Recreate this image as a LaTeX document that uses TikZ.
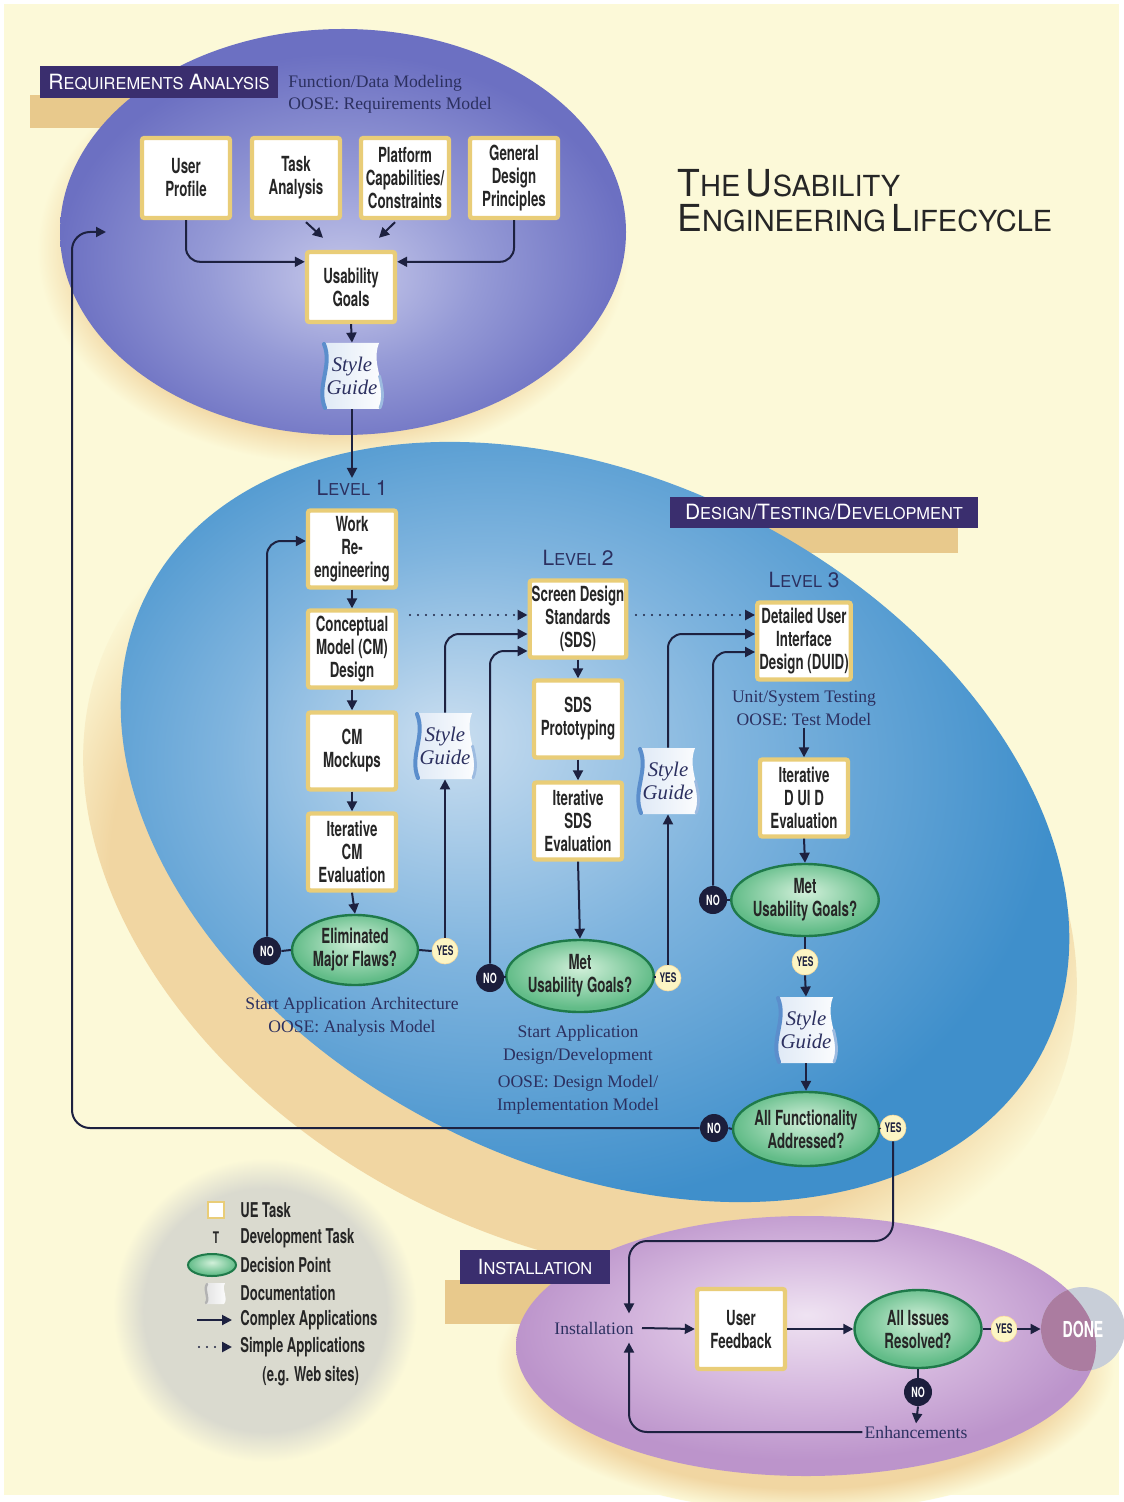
\documentclass[tikz,border=0pt]{standalone}
\usepackage{fontspec}
\setmainfont{Liberation Serif}
\newfontfamily\condfont[FakeStretch=0.64]{TeX Gyre Heros}
\newfontfamily\capfont{TeX Gyre Heros}
\usetikzlibrary{arrows.meta,shapes.geometric,calc}

% palette
\definecolor{paper}{HTML}{FCF9D8}
\definecolor{glowtan}{HTML}{F1D6A2}
\definecolor{raOut}{HTML}{6C70C2}
\definecolor{raMid}{HTML}{959AD6}
\definecolor{raIn}{HTML}{C6C8EA}
\definecolor{dtOut}{HTML}{3F8FCB}
\definecolor{dtMid}{HTML}{7FB4DE}
\definecolor{dtIn}{HTML}{CADEF0}
\definecolor{inOut}{HTML}{BC94CB}
\definecolor{inMid}{HTML}{D6B9DF}
\definecolor{inIn}{HTML}{EFE3F2}
\definecolor{legIn}{HTML}{DADACF}
\definecolor{decIn}{HTML}{D2F0DA}
\definecolor{decOut}{HTML}{62BC88}
\definecolor{decEdge}{HTML}{1F7A4A}
\definecolor{ink}{HTML}{1D2140}
\definecolor{labelpurple}{HTML}{3A2E6E}
\definecolor{labeltan}{HTML}{E8C98C}
\definecolor{frame}{HTML}{E9CD78}
\definecolor{nofill}{HTML}{1C1E3C}
\definecolor{yesfill}{HTML}{FCF5C4}
\definecolor{docblue}{HTML}{5B8ECC}
\definecolor{docpale}{HTML}{DCE7F5}
\definecolor{navytext}{HTML}{2C3060}
\definecolor{donegray}{HTML}{C8CED8}
\definecolor{donemauve}{HTML}{AB7CA0}

% shadings (the 25bp circle is the edge of the shaded path)
\pgfdeclareradialshading{rashade}{\pgfpoint{0bp}{-6bp}}{color(0bp)=(raIn); color(12bp)=(raMid); color(25bp)=(raOut); color(50bp)=(raOut)}
\pgfdeclareradialshading{dtshade}{\pgfpoint{-7bp}{5bp}}{color(0bp)=(dtIn); color(12bp)=(dtMid); color(25bp)=(dtOut); color(50bp)=(dtOut)}
\pgfdeclareradialshading{inshade}{\pgfpoint{0bp}{6bp}}{color(0bp)=(inIn); color(13bp)=(inMid); color(25bp)=(inOut); color(50bp)=(inOut)}
\pgfdeclareradialshading{glow}{\pgfpoint{0bp}{0bp}}{color(0bp)=(glowtan); color(21bp)=(glowtan); color(25bp)=(paper); color(50bp)=(paper)}
\pgfdeclareradialshading{legshade}{\pgfpoint{0bp}{0bp}}{color(0bp)=(legIn); color(20bp)=(legIn); color(25bp)=(paper); color(50bp)=(paper)}
\pgfdeclareradialshading{decshade}{\pgfpoint{0bp}{6bp}}{color(0bp)=(decIn); color(25bp)=(decOut); color(50bp)=(decOut)}

% small-caps headings built from two sizes
\newcommand\labBig[1]{{\fontsize{10.5}{12}\selectfont #1}}
\newcommand\labSm[1]{{\fontsize{8.2}{12}\selectfont #1}}
\newcommand\ttlBig[1]{{\fontsize{18.6}{20}\selectfont #1}}
\newcommand\ttlSm[1]{{\fontsize{14.5}{20}\selectfont #1}}

% wavy documentation sheet with its label
\newcommand\styleguide[3]{%
  \shade[left color=docpale, right color=white]
    (#2-28,#3-33) -- (#2+27,#3-33) .. controls (#2+18,#3-10) and (#2+37,#3+10) .. (#2+28,#3+33)
    -- (#2-27,#3+33) .. controls (#2-36,#3+10) and (#2-19,#3-10) .. cycle;
  \draw[docblue, line width=2pt, line cap=round]
    (#2-28,#3-32) .. controls (#2-19,#3-10) and (#2-36,#3+10) .. (#2-27,#3+32);
  \draw[docblue!60, line width=1.4pt, line cap=round]
    (#2+27.5,#3) .. controls (#2+30,#3+10.75) and (#2+32.5,#3+21.5) .. (#2+28,#3+32);
  \node[doc] (#1) at (#2,#3) {Style\\Guide};
}

\begin{document}
\begin{tikzpicture}[x=0.5pt,y=-0.5pt,
  ue/.style={rectangle, fill=white, draw=frame, line width=2.2pt, rounded corners=1.2pt,
    minimum width=44pt, minimum height=38.5pt, inner sep=1pt, align=center,
    font=\condfont\bfseries\fontsize{10.4}{11.5}\selectfont, text=black!85},
  dec/.style={ellipse, shade, shading=decshade, draw=decEdge, line width=1.2pt,
    minimum width=63pt, minimum height=35pt, inner sep=0pt, align=center,
    font=\condfont\bfseries\fontsize{10.4}{11.5}\selectfont, text=black!85},
  no/.style={circle, fill=nofill, minimum size=14pt, inner sep=0pt, text=white,
    font=\condfont\bfseries\fontsize{7}{7}\selectfont},
  yes/.style={circle, fill=yesfill, draw=yesfill!80!orange, line width=0.3pt, minimum size=13pt, inner sep=0pt, text=ink,
    font=\condfont\bfseries\fontsize{6.6}{7}\selectfont},
  doc/.style={minimum width=27pt, minimum height=33pt, inner sep=0pt, align=center,
    font=\itshape\fontsize{10.4}{11.5}\selectfont, text=navytext},
  note/.style={align=center, font=\fontsize{8.8}{11.3}\selectfont, text=navytext, inner sep=1pt},
  lvl/.style={font=\capfont, text=navytext, inner sep=1pt},
  lab/.style={fill=labelpurple, text=white, inner sep=0pt, font=\capfont},
  legtxt/.style={anchor=west, font=\condfont\bfseries\fontsize{10.2}{12}\selectfont, text=black!85, inner sep=0pt},
  line/.style={draw=ink, line width=1pt},
  arr/.style={draw=ink, line width=1pt, -{Triangle[length=5pt,width=5pt]}},
  dotarr/.style={draw=ink, line width=1.2pt, line cap=round, dash pattern=on 0pt off 4pt,
    -{Triangle[length=5pt,width=5pt]}},
]
\useasboundingbox (0,0) rectangle (1123,1502);

% page
\fill[white] (0,0) rectangle (1123,1502);
\fill[paper] (4,4) rectangle (1119,1495);

% soft tan glows beneath the phase ellipses
\shade[shading=glow] (333,250) ellipse [x radius=296, y radius=214];
\shade[shading=glow, rotate around={-27:(580,872)}] (580,872) ellipse [x radius=525, y radius=368];
\shade[shading=glow] (805,1366) ellipse [x radius=310, y radius=146];

% tan accent bars behind the phase labels
\fill[labeltan] (30,95) rectangle (200,128);
\fill[labeltan] (700,526) rectangle (958,553);
\fill[labeltan] (445,1280) rectangle (560,1324);

% phase ellipses
\shade[shading=rashade] (343,232) ellipse [x radius=283, y radius=203];
\shade[shading=dtshade, rotate around={-27:(595,822)}] (595,822) ellipse [x radius=503, y radius=341];
\shade[shading=inshade] (806,1346) ellipse [x radius=290, y radius=130];
\shade[shading=legshade] (265,1310) circle [radius=152];

% end marker
\fill[donegray] (1083,1329) circle [radius=42];
\begin{scope}
  \clip (806,1346) ellipse [x radius=290, y radius=130];
  \fill[donemauve] (1083,1329) circle [radius=42];
\end{scope}
\node[circle, minimum size=42pt, inner sep=0pt, text=white,
  font=\condfont\bfseries\fontsize{11}{12}\selectfont] (done) at (1083,1329) {DONE};

% phase labels
\node[lab, minimum width=119pt, minimum height=16pt] (labRA) at (159,82)
  {\labBig{R}\labSm{EQUIREMENTS} \labBig{A}\labSm{NALYSIS}};
\node[lab, minimum width=154pt, minimum height=15.5pt] (labDT) at (824,512)
  {\labBig{D}\labSm{ESIGN}\labBig{/T}\labSm{ESTING}\labBig{/D}\labSm{EVELOPMENT}};
\node[lab, minimum width=75pt, minimum height=17pt] (labIN) at (535,1267)
  {\labBig{I}\labSm{NSTALLATION}};

% title
\node[anchor=base west, font=\capfont, text=black!85, inner sep=0pt] (title1) at (677,197)
  {\ttlBig{T}\ttlSm{HE} \ttlBig{U}\ttlSm{SABILITY}};
\node[anchor=base west, font=\capfont, text=black!85, inner sep=0pt] (title2) at (677,232)
  {\ttlBig{E}\ttlSm{NGINEERING} \ttlBig{L}\ttlSm{IFECYCLE}};

% requirements analysis
\node[anchor=base west, note, inner sep=0pt] (raNote1) at (288,88) {Function/Data Modeling};
\node[anchor=base west, note, inner sep=0pt] (raNote2) at (288,110) {OOSE: Requirements Model};
\node[ue, minimum height=40pt] (up) at (186,178) {User\\Profile};
\node[ue, minimum height=40pt] (ta) at (296,178) {Task\\Analysis};
\node[ue, minimum height=40pt] (pc) at (405,178) {Platform\\Capabilities/\\Constraints};
\node[ue, minimum height=40pt] (gd) at (514,178) {General\\Design\\Principles};
\node[ue, minimum height=35pt] (ug) at (351,287) {Usability\\Goals};
\styleguide{sg0}{352}{376}

% level 1
\node[lvl] (lvl1) at (352,488) {\labBig{L}\labSm{EVEL} \labBig{1}};
\node[ue] (wr) at (352,549) {Work\\Re-\\engineering};
\node[ue] (cm) at (352,649) {Conceptual\\Model (CM)\\Design};
\node[ue] (mock) at (352,751) {CM\\Mockups};
\node[ue] (icm) at (352,852) {Iterative\\CM\\Evaluation};
\node[dec] (d1) at (355,950) {Eliminated\\Major Flaws?};
\node[no] (no1) at (267,951) {NO};
\node[yes] (yes1) at (445,951) {YES};
\node[note] (n1) at (352,1017) {Start Application Architecture\\OOSE: Analysis Model};
\styleguide{sg1}{445}{746}

% level 2
\node[lvl] (lvl2) at (578,558) {\labBig{L}\labSm{EVEL} \labBig{2}};
\node[ue] (sds) at (578,619) {Screen Design\\Standards\\(SDS)};
\node[ue] (sdsp) at (578,719) {SDS\\Prototyping};
\node[ue] (isds) at (578,821) {Iterative\\SDS\\Evaluation};
\node[dec, minimum width=64pt, minimum height=36pt] (d2) at (580,976) {Met\\Usability Goals?};
\node[no] (no2) at (490,978) {NO};
\node[yes] (yes2) at (668,978) {YES};
\node[note] (n2a) at (578,1045) {Start Application\\Design/Development};
\node[note] (n2b) at (578,1095) {OOSE: Design Model/\\Implementation Model};
\styleguide{sg2}{668}{781}

% level 3
\node[lvl] (lvl3) at (804,580) {\labBig{L}\labSm{EVEL} \labBig{3}};
\node[ue, minimum width=46pt] (duid) at (804,641) {Detailed User\\Interface\\Design (DUID)};
\node[note] (ust) at (804,708) {Unit/System Testing\\OOSE: Test Model};
\node[ue] (iduid) at (804,798) {Iterative\\D UI D\\Evaluation};
\node[dec, minimum width=64pt, minimum height=36pt] (d3) at (805,900) {Met\\Usability Goals?};
\node[no] (no3) at (713,900) {NO};
\node[yes] (yes3) at (805,962) {YES};
\styleguide{sg3}{806}{1030}
\node[dec, minimum width=65pt, minimum height=37pt] (d4) at (806,1129) {All Functionality\\Addressed?};
\node[no] (no4) at (714,1128) {NO};
\node[yes] (yes4) at (893,1128) {YES};

% installation
\node[note, inner sep=4pt] (inst) at (594,1328) {Installation};
\node[ue, minimum height=40pt] (uf) at (741,1329) {User\\Feedback};
\node[dec, minimum width=63.5pt, minimum height=39pt] (d5) at (918,1329) {All Issues\\Resolved?};
\node[yes] (yes5) at (1004,1329) {YES};
\node[no] (no5) at (918,1392) {NO};
\node[note] (enh) at (916,1432) {Enhancements};

% connectors: requirements analysis
\draw[arr, rounded corners=7pt] (up.south) |- ([yshift=-6pt]ug.north west);
\draw[arr, rounded corners=7pt] (gd.south) |- ([yshift=-6pt]ug.north east);
\draw[arr] ([xshift=5pt,yshift=-1pt]ta.south) -- ([xshift=-14pt,yshift=6pt]ug.north);
\draw[arr] ([xshift=-5pt,yshift=-1pt]pc.south) -- ([xshift=14pt,yshift=6pt]ug.north);
\draw[arr] (ug.south) -- (sg0.north);
\draw[arr] (sg0.south) -- (lvl1.north);

% connectors: level 1
\draw[arr] (wr.south) -- (cm.north);
\draw[arr] (cm.south) -- (mock.north);
\draw[arr] (mock.south) -- (icm.north);
\draw[arr] (icm.south) -- (d1.north);
\draw[line] (no1.east) -- (d1.west);
\draw[line] (d1.east) -- (yes1.west);
\draw[arr, rounded corners=7pt] (no1.north) |- ([yshift=4pt]wr.west);
\draw[arr] (yes1.north) -- (sg1.south);
\draw[arr, rounded corners=7pt] (sg1.north) |- ([yshift=-7.5pt]sds.west);
\coordinate (dot1) at (410,615);
\draw[dotarr] (dot1) -- (dot1 -| sds.west);

% connectors: level 2
\draw[arr] (sds.south) -- (sdsp.north);
\draw[arr] (sdsp.south) -- (isds.north);
\draw[arr] (isds.south) -- (d2.north);
\draw[line] (no2.east) -- (d2.west);
\draw[line] (d2.east) -- (yes2.west);
\draw[arr, rounded corners=7pt] (no2.north) |- ([yshift=-16pt]sds.west);
\draw[arr] (yes2.north) -- (sg2.south);
\draw[arr, rounded corners=7pt] (sg2.north) |- ([yshift=3.5pt]duid.west);
\coordinate (dot2) at (636,615);
\draw[dotarr] (dot2) -- (dot2 -| duid.west);

% connectors: level 3
\draw[arr] (ust.south) -- (iduid.north);
\draw[arr] (iduid.south) -- (d3.north);
\draw[line] (no3.east) -- (d3.west);
\draw[line] (d3.south) -- (yes3.north);
\draw[arr, rounded corners=7pt] (no3.north) |- ([yshift=-5.5pt]duid.west);
\draw[arr] (yes3.south) -- (sg3.north);
\draw[arr] (sg3.south) -- (d4.north);
\draw[line] (no4.east) -- (d4.west);
\draw[line] (d4.east) -- (yes4.west);

% back to requirements analysis
\coordinate (railL) at (72,0);
\coordinate (raEntry) at (106,232);
\draw[arr, rounded corners=9pt] (no4.west) -- (no4.west -| railL) -- (railL |- raEntry) -- (raEntry);

% on to installation
\coordinate (railY) at (0,1241);
\coordinate (instX) at (629,0);
\draw[arr, rounded corners=9pt] (yes4.south) -- (yes4.south |- railY) -- (instX |- railY) -- (instX |- inst.north);

% connectors: installation
\draw[arr] (inst.east) -- (uf.west);
\draw[arr] (uf.east) -- (d5.west);
\draw[line] (d5.east) -- (yes5.west);
\draw[arr] (yes5.east) -- (done.west);
\draw[line] (d5.south) -- (no5.north);
\draw[arr] (no5.south) -- (enh.north);
\draw[arr, rounded corners=9pt] (enh.west) -| (instX |- inst.south);

% legend
\node[rectangle, fill=white, draw=frame, line width=1.4pt, minimum size=8pt, inner sep=0pt] (lgUE) at (216,1210) {};
\node[legtxt] (lgUEt) at (240,1210) {UE Task};
\node[font=\condfont\bfseries\fontsize{8}{9}\selectfont, text=black!85, inner sep=0pt] (lgDT) at (216,1238) {T};
\node[legtxt] (lgDTt) at (240,1238) {Development Task};
\node[dec, minimum width=24pt, minimum height=11pt, line width=1pt] (lgDP) at (212,1265) {};
\node[legtxt] (lgDPt) at (240,1265) {Decision Point};
\shade[left color=black!12, right color=white]
  (207,1283) -- (225,1283) .. controls (221,1291) and (229,1297) .. (224,1304)
  -- (206,1304) .. controls (210,1297) and (203,1291) .. cycle;
\draw[black!30, line width=1.2pt, line cap=round] (207,1284) .. controls (203,1291) and (210,1297) .. (206,1303);
\node[legtxt] (lgDCt) at (240,1293) {Documentation};
\coordinate (lgA1) at (197,1320);
\coordinate (lgA2) at (232,1320);
\draw[arr] (lgA1) -- (lgA2);
\node[legtxt] (lgCAt) at (240,1320) {Complex Applications};
\coordinate (lgB1) at (199,1347);
\coordinate (lgB2) at (232,1347);
\draw[dotarr] (lgB1) -- (lgB2);
\node[legtxt] (lgSAt) at (240,1347) {Simple Applications};
\node[legtxt] (lgWSt) at (262,1376) {(e.g. Web sites)};
\end{tikzpicture}
\end{document}
